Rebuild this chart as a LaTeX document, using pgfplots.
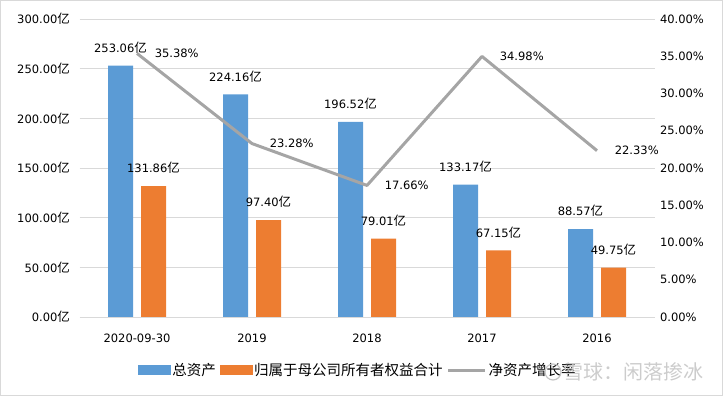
\documentclass[border=0pt]{standalone}
\usepackage{fontspec}
\setmainfont{DejaVu Sans}
\newfontfamily\cjk{Noto Sans CJK SC}
\usepackage{pgfplots}
\pgfplotsset{compat=1.18}
\definecolor{cblue}{RGB}{91,155,213}
\definecolor{corange}{RGB}{237,125,49}
\definecolor{cgray}{RGB}{165,165,165}
\definecolor{cgrid}{RGB}{217,217,217}
\newcommand{\yi}{{\cjk\fontsize{12.5}{13}\selectfont 亿}}
\newcommand{\lblfont}{\fontsize{11.5}{13}\selectfont}

\begin{document}
\begin{tikzpicture}[x=1pt,y=1pt]
\useasboundingbox (0,0) rectangle (723,396);
\draw[cgrid] (0.5,0.5) rectangle (722.5,395.5);
\begin{axis}[
  at={(79.5pt,79pt)}, anchor=south west,
  scale only axis, width=575pt, height=298pt,
  xmin=-0.5, xmax=4.5, ymin=0, ymax=300,
  ytick={0,50,...,300},
  xtick={0,...,4},
  xticklabels={2020-09-30,2019,2018,2017,2016},
  axis line style={draw=none},
  tick style={draw=none},
  ymajorgrids, grid style={cgrid, line width=0.8pt},
  /pgf/number format/assume math mode=true,
  yticklabel={\pgfmathprintnumber[fixed,fixed zerofill,precision=2]{\tick}\yi},
  ticklabel style={font=\lblfont},
  yticklabel style={xshift=-6pt},
  xticklabel style={yshift=-9pt},
  ybar=8pt, bar width=25pt,
  nodes near coords={\pgfplotspointmeta\yi},
  point meta=explicit symbolic,
  every node near coord/.append style={font=\lblfont, anchor=center, yshift=18pt, text=black},
]
\addplot[fill=cblue, draw=none] coordinates {(0,253.06)[253.06] (1,224.16)[224.16] (2,196.52)[196.52] (3,133.17)[133.17] (4,88.57)[88.57]};
\addplot[fill=corange, draw=none] coordinates {(0,131.86)[131.86] (1,97.40)[97.40] (2,79.01)[79.01] (3,67.15)[67.15] (4,49.75)[49.75]};
\end{axis}
\begin{axis}[
  at={(79.5pt,79pt)}, anchor=south west,
  scale only axis, width=575pt, height=298pt,
  xmin=-0.5, xmax=4.5, ymin=0, ymax=40,
  ytick={0,5,...,40},
  axis y line*=right, axis x line=none,
  axis line style={draw=none},
  tick style={draw=none},
  /pgf/number format/assume math mode=true,
  yticklabel={\pgfmathprintnumber[fixed,fixed zerofill,precision=2]{\tick}\%},
  ticklabel style={font=\lblfont},
  yticklabel style={xshift=2pt},
  legend style={at={(0.484,-0.178)}, anchor=center, draw=none, fill=none,
    legend columns=-1, font=\cjk\fontsize{14.5}{16}\selectfont,
    /tikz/every even column/.append style={column sep=2pt}},
]
\addlegendimage{legend image code/.code={\fill[cblue] (0pt,-4.5pt) rectangle (32pt,4.5pt);}}
\addlegendentry{总资产}
\addlegendimage{legend image code/.code={\fill[corange] (0pt,-4.5pt) rectangle (32pt,4.5pt);}}
\addlegendentry{归属于母公司所有者权益合计}
\addplot[cgray, line width=3pt, line join=round, no markers,
  nodes near coords={\pgfplotspointmeta\%}, point meta=explicit symbolic,
  every node near coord/.append style={font=\lblfont, anchor=west, xshift=13pt, yshift=0pt, text=black},
  legend image code/.code={\draw[cgray, line width=3pt] (0pt,0pt) -- (37pt,0pt);}]
  coordinates {(0,35.38)[35.38] (1,23.28)[23.28] (2,17.66)[17.66] (3,34.98)[34.98] (4,22.33)[22.33]};
\addlegendentry{净资产增长率}
\end{axis}
\draw[gray!45, line width=1.2pt] (553,24) circle (8);
\node[text=gray!40, font=\cjk\fontsize{20}{22}\selectfont, anchor=west, inner sep=0pt] at (563,24) {雪球：闲落掺冰};
\end{tikzpicture}
\end{document}
